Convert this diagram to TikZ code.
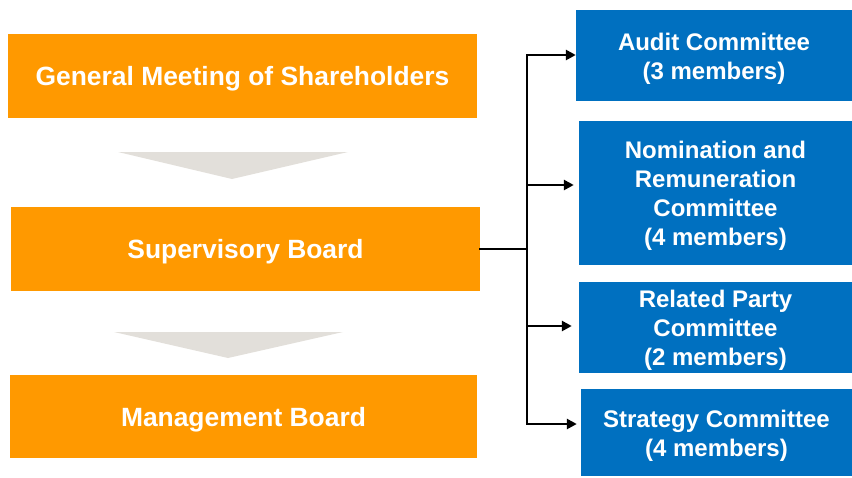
\documentclass[tikz,border=0pt]{standalone}
\usepackage{fontspec}
\setmainfont{Liberation Sans}
\usetikzlibrary{arrows.meta}
\definecolor{orgbox}{RGB}{255,153,0}
\definecolor{bluebox}{RGB}{0,112,192}
\definecolor{chev}{RGB}{226,223,218}
\tikzset{
  orangebox/.style={fill=orgbox, inner sep=0pt},
  otxt/.style={text=white, inner sep=0pt, align=center, yshift=-3pt,
    font=\bfseries\fontsize{26.4}{31}\selectfont},
  bluecom/.style={fill=bluebox, inner sep=0pt},
  btxt/.style={text=white, inner sep=0pt, align=center, yshift=-3pt,
    font=\bfseries\fontsize{24}{29}\selectfont},
  conn/.style={line width=2.5pt, line cap=rect},
  arr/.style={line width=2.5pt, -{Triangle[length=10pt,width=10pt]}},
}
\begin{document}
\begin{tikzpicture}[x=1pt,y=-1pt]
\useasboundingbox (0,0) rectangle (852,477);
% orange boxes
\node[orangebox, minimum width=469pt, minimum height=84pt, label={[otxt]center:General Meeting of Shareholders}] (gms) at (242.5,76) {};
\node[orangebox, minimum width=469pt, minimum height=84pt, label={[otxt]center:Supervisory Board}] (sb) at (245.5,249) {};
\node[orangebox, minimum width=467pt, minimum height=83pt, label={[otxt]center:Management Board}] (mb) at (243.5,416.5) {};
% chevrons
\fill[chev] (118,152) -- (348,152) -- (232,179) -- cycle;
\fill[chev] (114,332) -- (343,332) -- (228,358) -- cycle;
% blue boxes
\node[bluecom, minimum width=276pt, minimum height=91pt, label={[btxt]center:Audit Committee\\(3 members)}] (audit) at (714,55.5) {};
\node[bluecom, minimum width=273pt, minimum height=144pt, label={[btxt]center:Nomination and\\Remuneration\\Committee\\(4 members)}] (nom) at (715.5,193) {};
\node[bluecom, minimum width=273pt, minimum height=91pt, label={[btxt]center:Related Party\\Committee\\(2 members)}] (rel) at (715.5,327.5) {};
\node[bluecom, minimum width=271pt, minimum height=87pt, label={[btxt]center:Strategy Committee\\(4 members)}] (strat) at (716.5,432.5) {};
% connectors
\coordinate (jc) at (527,249);
\coordinate (bA) at (527,55);
\coordinate (bN) at (527,185);
\coordinate (bR) at (527,326);
\coordinate (bS) at (527,424);
\draw[conn] (sb.east |- jc) -- (jc);
\draw[conn] (bA) -- (bS);
\draw[arr] (bA) -- (audit.west |- bA);
\draw[arr, shorten >=5pt] (bN) -- (nom.west |- bN);
\draw[arr, shorten >=7pt] (bR) -- (rel.west |- bR);
\draw[arr, shorten >=4pt] (bS) -- (strat.west |- bS);
\end{tikzpicture}
\end{document}
